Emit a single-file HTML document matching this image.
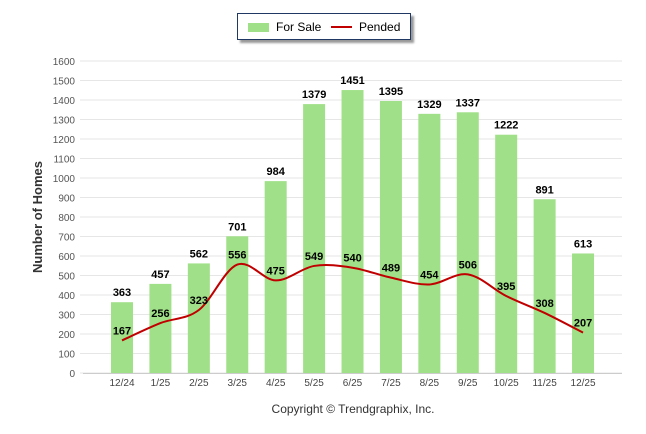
<!DOCTYPE html>
<html><head><meta charset="utf-8"><style>
body{margin:0;background:#fff;font-family:"Liberation Sans",Arial,sans-serif}
#wrap{position:relative;width:646px;height:434px;overflow:hidden}
#legend{position:absolute;left:237px;top:13px;width:172px;height:25px;border:1px solid #1f3864;box-shadow:3px 3px 2px #999;background:#fff;font-size:12px;color:#000}
</style></head><body>
<div id="wrap">
<div id="legend">
 <div style="position:absolute;left:10px;top:6px"><span style="display:inline-block;width:21px;height:9px;background:#a0e088;vertical-align:-1px;margin-right:7px"></span>For Sale</div>
 <div style="position:absolute;left:93px;top:6px"><span style="display:inline-block;width:21px;height:2px;background:#c00000;vertical-align:3px;margin-right:7px"></span>Pended</div>
</div>
<svg id="svg" width="646" height="434" style="position:absolute;left:0;top:0"></svg>
<div style="position:absolute;left:0;width:706px;top:402px;text-align:center;font-size:12px;color:#333">Copyright © Trendgraphix, Inc.</div>
</div>
<script>
const categories=["12/24","1/25","2/25","3/25","4/25","5/25","6/25","7/25","8/25","9/25","10/25","11/25","12/25"];
const forSale=[363,457,562,701,984,1379,1451,1395,1329,1337,1222,891,613];
const pended=[167,256,323,556,475,549,540,489,454,506,395,308,207];
const yTicks=[0,100,200,300,400,500,600,700,800,900,1000,1100,1200,1300,1400,1500,1600];
const NS="http://www.w3.org/2000/svg";
const svg=document.getElementById('svg');
const y=v=>373-v*312/1600;
const x=i=>122+i*38.42;
function mk(t,a,txt){const e=document.createElementNS(NS,t);for(const k in a)e.setAttribute(k,a[k]);if(txt!==undefined)e.textContent=txt;svg.appendChild(e);return e;}
yTicks.forEach(t=>{
 const g=mk('line',{x1:80,x2:622,y1:y(t),y2:y(t),stroke:'#e6e6e6','stroke-width':1});
 
 const l=mk('text',{x:75,y:y(t)+4,'text-anchor':'end','font-size':'10','fill':'#555'},t);
 
});
const ax=mk('line',{x1:83,x2:622,y1:373.5,y2:373.5,stroke:'#ccc'});

const yt=mk('text',{x:0,y:0,transform:'translate(42,217) rotate(-90)','text-anchor':'middle','font-size':'13','font-weight':'bold','fill':'#333'},'Number of Homes');

categories.forEach((c,i)=>{
 const b=mk('rect',{x:x(i)-11,y:y(forSale[i]),width:22,height:373-y(forSale[i]),fill:'#a0e088'});
 
 const t=mk('text',{x:x(i),y:386,'text-anchor':'middle','font-size':'10','fill':'#444'},c);
 
});
const pts=pended.map((v,i)=>[x(i),y(v)]);
let d='M'+pts[0].join(',');
for(let i=0;i<pts.length-1;i++){
 const p0=pts[i-1]||pts[i],p1=pts[i],p2=pts[i+1],p3=pts[i+2]||p2,k=6;
 d+=` C${p1[0]+(p2[0]-p0[0])/k},${p1[1]+(p2[1]-p0[1])/k} ${p2[0]-(p3[0]-p1[0])/k},${p2[1]-(p3[1]-p1[1])/k} ${p2[0]},${p2[1]}`;
}
const ln=mk('path',{d:d,fill:'none',stroke:'#c00000','stroke-width':2});

categories.forEach((c,i)=>{
 const a=mk('text',{x:x(i),y:y(forSale[i])-6,'text-anchor':'middle','font-size':'11','font-weight':'bold'},forSale[i]);
 
 const b=mk('text',{x:x(i),y:y(pended[i])-6,'text-anchor':'middle','font-size':'11','font-weight':'bold'},pended[i]);
 
});
</script>
</body></html>
